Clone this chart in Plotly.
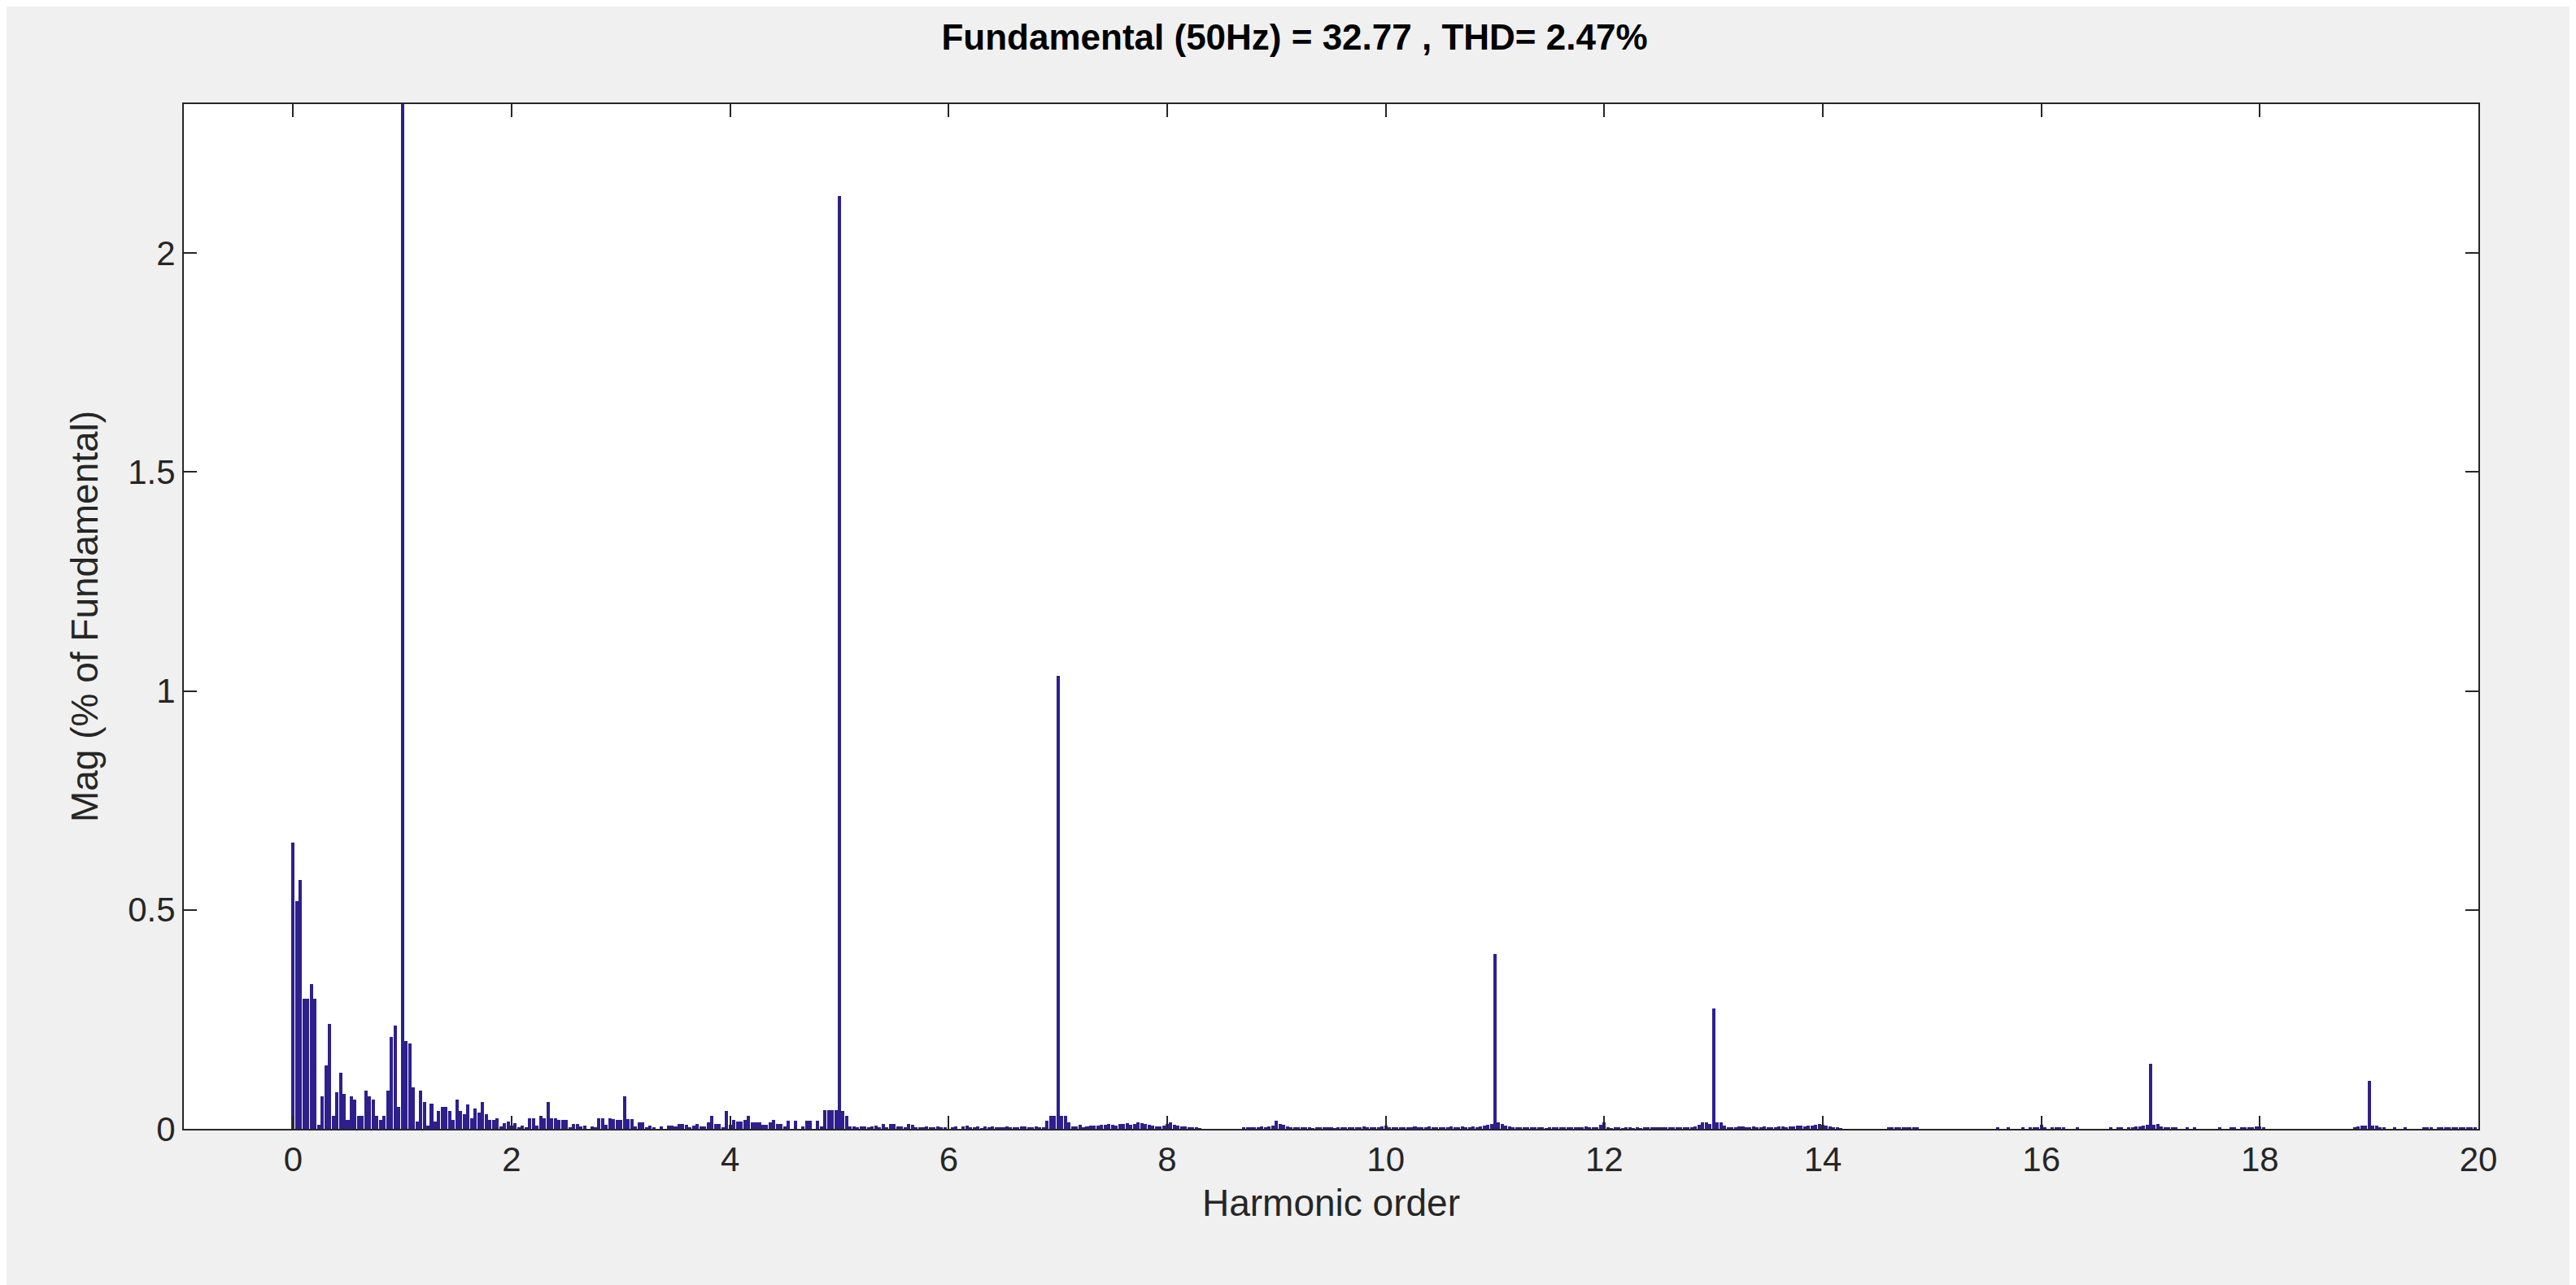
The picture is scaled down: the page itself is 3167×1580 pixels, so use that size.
import plotly.graph_objects as go

# FFT magnitude, % of fundamental; one row per harmonic, 30 bins per harmonic (1/30 resolution)
bins_per_harmonic = 30
mag_rows = [
    [0.654, 0.52, 0.568, 0.297, 0.297, 0.33, 0.297, 0.01, 0.075, 0.145, 0.24, 0.03, 0.084, 0.128, 0.08,
     0.02, 0.075, 0.066, 0.03, 0.03, 0.088, 0.075, 0.066, 0.03, 0.02, 0.03, 0.088, 0.21, 0.235, 0.05],
    [100.0, 0.2, 0.195, 0.095, 0.017, 0.088, 0.062, 0.008, 0.058, 0.017, 0.041, 0.05, 0.05, 0.04, 0.02,
     0.067, 0.04, 0.033, 0.055, 0.025, 0.047, 0.037, 0.062, 0.033, 0.02, 0.02, 0.025, 0.005, 0.013, 0.017],
    [0.008, 0.013, 0.003, 0.008, 0.004, 0.025, 0.025, 0.008, 0.03, 0.025, 0.062, 0.025, 0.025, 0.02, 0.02,
     0.02, 0.003, 0.012, 0.012, 0.005, 0.008, 0.0, 0.005, 0.003, 0.025, 0.025, 0.01, 0.025, 0.022, 0.02],
    [0.02, 0.075, 0.022, 0.022, 0.005, 0.015, 0.015, 0.003, 0.008, 0.002, 0.0, 0.005, 0.0, 0.008, 0.008,
     0.005, 0.012, 0.012, 0.01, 0.003, 0.008, 0.012, 0.005, 0.005, 0.015, 0.03, 0.012, 0.012, 0.003, 0.04],
    [0.01, 0.02, 0.017, 0.017, 0.02, 0.03, 0.015, 0.015, 0.015, 0.01, 0.01, 0.015, 0.02, 0.012, 0.012,
     0.005, 0.018, 0.0, 0.018, 0.0, 0.005, 0.018, 0.018, 0.0, 0.018, 0.005, 0.042, 0.042, 0.042, 0.042],
    [2.13, 0.04, 0.03, 0.005, 0.006, 0.004, 0.006, 0.005, 0.003, 0.006, 0.007, 0.004, 0.012, 0.003, 0.012,
     0.012, 0.006, 0.005, 0.004, 0.012, 0.01, 0.004, 0.003, 0.004, 0.006, 0.002, 0.004, 0.005, 0.003, 0.004],
    [0.0, 0.002, 0.006, 0.0, 0.005, 0.008, 0.003, 0.004, 0.006, 0.001, 0.005, 0.004, 0.006, 0.002, 0.004,
     0.003, 0.005, 0.002, 0.004, 0.003, 0.005, 0.006, 0.003, 0.002, 0.005, 0.004, 0.002, 0.018, 0.03, 0.03],
    [1.035, 0.03, 0.03, 0.015, 0.006, 0.005, 0.01, 0.003, 0.006, 0.007, 0.008, 0.008, 0.009, 0.01, 0.012,
     0.01, 0.008, 0.011, 0.011, 0.013, 0.01, 0.012, 0.015, 0.013, 0.012, 0.01, 0.008, 0.006, 0.005, 0.007],
    [0.012, 0.014, 0.01, 0.008, 0.006, 0.005, 0.004, 0.003, 0.002, 0.001, 0, 0, 0, 0, 0,
     0, 0, 0, 0, 0, 0, 0.002, 0.003, 0.002, 0.004, 0.003, 0.005, 0.004, 0.006, 0.008],
    [0.018, 0.012, 0.01, 0.006, 0.004, 0.003, 0.002, 0.004, 0.003, 0.002, 0.001, 0.003, 0.002, 0.004, 0.003,
     0.002, 0.001, 0.002, 0.003, 0.002, 0.004, 0.003, 0.002, 0.003, 0.005, 0.003, 0.002, 0.004, 0.003, 0.006],
    [0.008, 0.004, 0.002, 0.003, 0.004, 0.003, 0.002, 0.003, 0.005, 0.002, 0.003, 0.004, 0.006, 0.003, 0.002,
     0.003, 0.004, 0.003, 0.005, 0.004, 0.003, 0.006, 0.004, 0.003, 0.005, 0.004, 0.006, 0.008, 0.01, 0.012],
    [0.4, 0.014, 0.012, 0.008, 0.005, 0.003, 0.002, 0.003, 0.004, 0.002, 0.003, 0.002, 0.003, 0.002, 0.001,
     0.003, 0.004, 0.002, 0.003, 0.004, 0.003, 0.002, 0.003, 0.002, 0.004, 0.005, 0.004, 0.003, 0.004, 0.01],
    [0.015, 0.002, 0.001, 0.003, 0.002, 0.001, 0.002, 0.003, 0.001, 0.002, 0.001, 0.002, 0.003, 0.004, 0.002,
     0.003, 0.004, 0.003, 0.004, 0.003, 0.002, 0.003, 0.004, 0.003, 0.004, 0.005, 0.01, 0.015, 0.015, 0.012],
    [0.275, 0.015, 0.014, 0.008, 0.003, 0.004, 0.002, 0.006, 0.005, 0.004, 0.003, 0.005, 0.004, 0.003, 0.005,
     0.004, 0.003, 0.004, 0.005, 0.006, 0.004, 0.005, 0.006, 0.007, 0.008, 0.006, 0.008, 0.007, 0.01, 0.012],
    [0.01, 0.008, 0.005, 0.004, 0.002, 0.001, 0, 0, 0, 0, 0, 0, 0, 0, 0,
     0, 0, 0, 0.002, 0.003, 0.002, 0.004, 0.003, 0.002, 0.004, 0.003, 0.002, 0, 0, 0],
    [0, 0, 0, 0, 0, 0, 0, 0, 0, 0, 0, 0, 0, 0, 0,
     0, 0, 0, 0.003, 0, 0, 0.002, 0, 0, 0, 0.003, 0, 0.002, 0.004, 0.002],
    [0.01, 0.002, 0, 0.004, 0.004, 0.003, 0.002, 0, 0, 0, 0.002, 0, 0, 0, 0,
     0, 0, 0, 0, 0.002, 0, 0.003, 0.002, 0, 0.003, 0.004, 0.005, 0.006, 0.008, 0.01],
    [0.148, 0.01, 0.012, 0.006, 0.003, 0.002, 0.004, 0.002, 0, 0, 0.003, 0, 0.002, 0, 0,
     0, 0, 0, 0, 0.002, 0, 0, 0.003, 0.002, 0, 0.003, 0.002, 0.004, 0.003, 0.005],
    [0.006, 0.002, 0, 0, 0, 0, 0, 0, 0, 0, 0, 0, 0, 0, 0,
     0, 0, 0, 0, 0, 0, 0, 0, 0, 0, 0, 0.003, 0.006, 0.008, 0.008],
    [0.11, 0.008, 0.008, 0.004, 0.002, 0, 0, 0.002, 0, 0, 0.003, 0, 0, 0, 0,
     0.002, 0.003, 0.003, 0, 0.002, 0.003, 0.003, 0.004, 0.004, 0.003, 0.002, 0.003, 0.004, 0.003, 0.002],
]
x_ticks = list(range(0, 21, 2))
y_ticks = [0, 0.5, 1, 1.5, 2]
y_tick_labels = ["0", "0.5", "1", "1.5", "2"]

harmonic = []
mag = []
for h, row in enumerate(mag_rows):
    for k, v in enumerate(row):
        harmonic.append(h + k / bins_per_harmonic)
        mag.append(v)

fig = go.Figure()
fig.add_trace(go.Bar(x=harmonic, y=mag, width=0.9 / bins_per_harmonic,
                     marker=dict(color="#2e1f8e", line=dict(width=0))))

font_family = "Liberation Sans, Arial"
axis_common = dict(showgrid=False, zeroline=False, showline=True, linecolor="#262626", linewidth=2,
                   mirror="ticks", ticks="inside", ticklen=16, tickwidth=2, tickcolor="#262626",
                   tickfont=dict(family=font_family, size=42, color="#262626"))
fig.update_xaxes(range=[-1, 20], tickvals=x_ticks,
                 title=dict(text="Harmonic order", font=dict(family=font_family, size=46, color="#262626"), standoff=14),
                 **axis_common)
fig.update_yaxes(range=[0, 2.34], tickvals=y_ticks, ticktext=y_tick_labels,
                 title=dict(text="Mag (% of Fundamental)", font=dict(family=font_family, size=46, color="#262626"), standoff=22),
                 **axis_common)
fig.update_layout(
    width=3167, height=1580,
    paper_bgcolor="#f0f0f0", plot_bgcolor="white",
    margin=dict(l=218, r=128, t=120, b=200),
    showlegend=False, bargap=0,
    title=dict(text="<b>Fundamental (50Hz) = 32.77 , THD= 2.47%</b>", x=0.5, xanchor="center",
               y=1 - 22 / 1580, yanchor="top",
               font=dict(family=font_family, size=44, color="black")),
)
fig.write_html("out.html")
